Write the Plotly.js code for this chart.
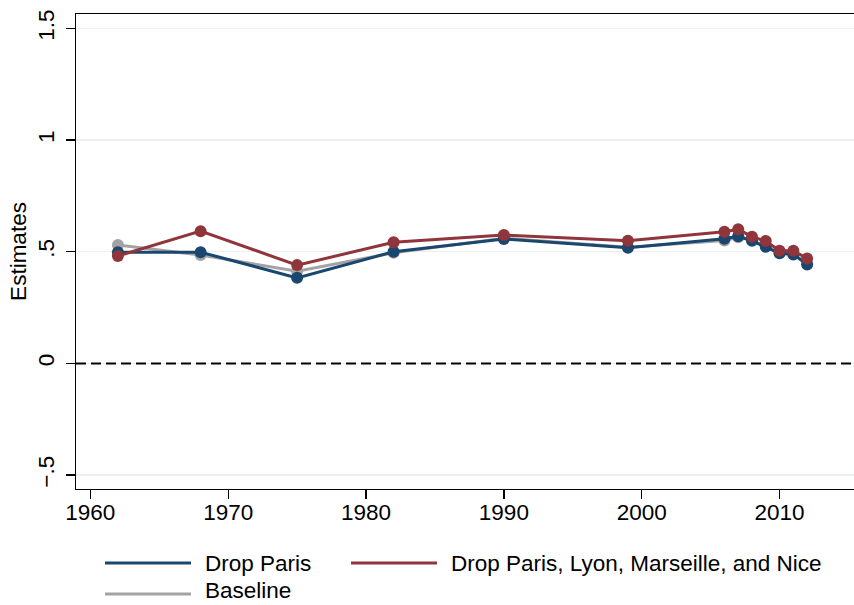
<!DOCTYPE html>
<html>
<head>
<meta charset="utf-8">
<script src="https://cdn.plot.ly/plotly-3.0.1.min.js"></script>
<style>html,body{margin:0;padding:0;background:#fff;}#chart{width:854px;height:605px;}</style>
</head>
<body>
<div id="chart"></div>
<script>
// ---- data ----
var years = [1962, 1968, 1975, 1982, 1990, 1999, 2006, 2007, 2008, 2009, 2010, 2011, 2012];
var dropParis = [0.498, 0.498, 0.383, 0.500, 0.557, 0.518, 0.558, 0.569, 0.549, 0.522, 0.493, 0.488, 0.443];
var dropFour  = [0.481, 0.592, 0.440, 0.542, 0.575, 0.549, 0.589, 0.601, 0.567, 0.548, 0.504, 0.504, 0.470];
var baseline  = [0.530, 0.485, 0.413, 0.495, 0.560, 0.520, 0.550, 0.565, 0.552, 0.525, 0.495, 0.490, 0.446];
var seriesNames = ["Drop Paris", "Drop Paris, Lyon, Marseille, and Nice", "Baseline"];
var seriesColors = ["#1a476f", "#90353b", "#a3a3a3"];
var yTickVals = [-0.5, 0, 0.5, 1, 1.5];
var yTickText = ["\u2212.5", "0", ".5", "1", "1.5"];
var xTickVals = [1960, 1970, 1980, 1990, 2000, 2010];

// ---- layout helpers (pixel -> paper) ----
var W = 854, H = 605;
var mL = 76, mR = 0, mT = 14, mB = 116;
var pw = W - mL - mR, ph = H - mT - mB;
function px(x){ return (x - mL) / pw; }
function py(y){ return (H - mB - y) / ph; }

var FONT = "Liberation Sans, Arial, Helvetica, sans-serif";
var FS = 22.5;

function mk(idx, ys){
  return {
    x: years, y: ys, type: "scatter", mode: "lines+markers",
    name: seriesNames[idx], showlegend: false,
    line: {color: seriesColors[idx], width: 3},
    marker: {color: seriesColors[idx], size: 12}
  };
}
var data = [mk(2, baseline), mk(0, dropParis), mk(1, dropFour)];

// manual legend
var legItems = [
  {i: 0, x: 105, y: 563, ty: 563, anchor: "middle"},
  {i: 1, x: 351, y: 563, ty: 563, anchor: "middle"},
  {i: 2, x: 105, y: 594, ty: 604.5, anchor: "bottom"}
];
var shapes = [{
  type: "line", xref: "paper", yref: "y", x0: 0, x1: 1, y0: 0, y1: 0,
  line: {color: "#000", width: 2, dash: "10px,5px"}, layer: "above"
}];
var annotations = [];
legItems.forEach(function(it){
  shapes.push({type: "line", xref: "paper", yref: "paper",
    x0: px(it.x), x1: px(it.x + 86), y0: py(it.y), y1: py(it.y),
    line: {color: seriesColors[it.i], width: 3}});
  annotations.push({xref: "paper", yref: "paper", x: px(it.x + 98), y: py(it.ty),
    xanchor: "left", yanchor: it.anchor, showarrow: false,
    text: seriesNames[it.i], font: {family: FONT, size: FS, color: "#000"}});
});

var layout = {
  width: W, height: H,
  margin: {l: mL, r: mR, t: mT, b: mB, pad: 0},
  paper_bgcolor: "#fff", plot_bgcolor: "#fff",
  font: {family: FONT, size: FS, color: "#000"},
  showlegend: false,
  xaxis: {
    range: [1958.96, 2015.4], tickmode: "array", tickvals: xTickVals,
    ticks: "outside", ticklen: 9, tickwidth: 1.3, tickcolor: "#000",
    ticklabelstandoff: -6,
    showline: true, linecolor: "#000", linewidth: 1.3, mirror: true,
    showgrid: false, zeroline: false,
    tickfont: {family: FONT, size: FS, color: "#000"}
  },
  yaxis: {
    range: [-0.5625, 1.5645], tickmode: "array", tickvals: yTickVals, ticktext: yTickText,
    tickangle: -90, ticklabelstandoff: 3,
    ticks: "outside", ticklen: 9, tickwidth: 1.3, tickcolor: "#000",
    showline: true, linecolor: "#000", linewidth: 1.3,
    showgrid: true, gridcolor: "#e8f0f2", gridwidth: 1.5, zeroline: false,
    tickfont: {family: FONT, size: FS, color: "#000"},
    title: {text: "Estimates", font: {family: FONT, size: FS, color: "#000"}, standoff: 0}
  },
  shapes: shapes,
  annotations: annotations
};

Plotly.newPlot("chart", data, layout, {displayModeBar: false, staticPlot: true});
</script>
</body>
</html>
